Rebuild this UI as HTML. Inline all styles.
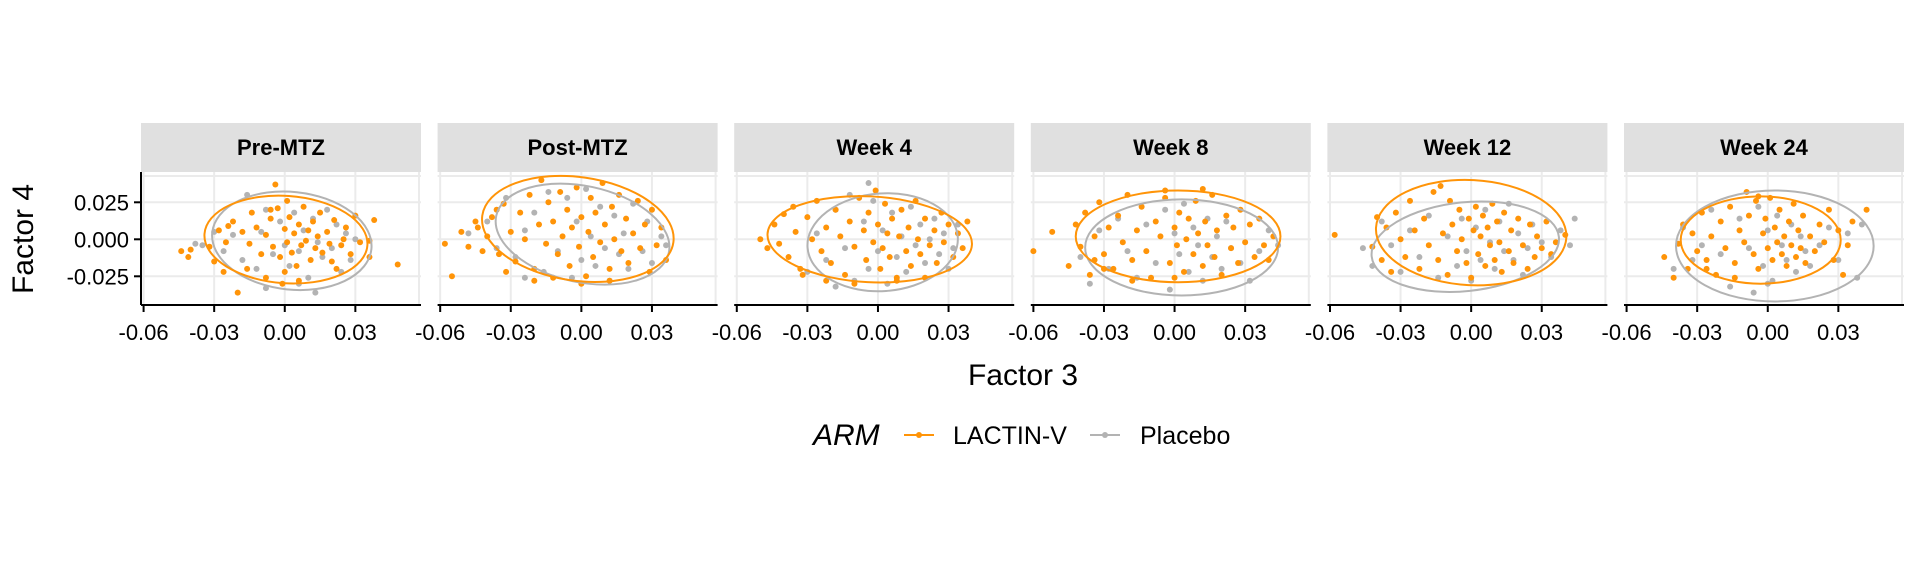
<!DOCTYPE html>
<html><head><meta charset="utf-8">
<style>
html,body{margin:0;padding:0;background:#fff;}
svg{display:block;font-family:"Liberation Sans",Arial,sans-serif;}
</style></head>
<body>
<svg id="chart" width="1920" height="576" viewBox="0 0 1920 576" xmlns="http://www.w3.org/2000/svg">
<g id="panels"></g>
<text x="1023" y="385" font-size="30" text-anchor="middle">Factor 3</text>
<text transform="translate(33,239) rotate(-90)" font-size="30" text-anchor="middle">Factor 4</text>
<g>
<text x="813" y="445" font-size="30" font-style="italic">ARM</text>
<g>
<line x1="904" y1="435" x2="934" y2="435" stroke="#FF9408" stroke-width="2"/>
<circle cx="919" cy="435" r="3" fill="#FF9408"/>
<text x="953" y="444" font-size="25">LACTIN-V</text></g>
<g>
<line x1="1090" y1="435" x2="1120" y2="435" stroke="#b3b3b3" stroke-width="2"/>
<circle cx="1105" cy="435" r="3" fill="#b3b3b3"/>
<text x="1140" y="444" font-size="25">Placebo</text></g>
</g>
</svg>
<script>
const panelTitles=["Pre-MTZ","Post-MTZ","Week 4","Week 8","Week 12","Week 24"];
const xTicks=[-0.06,-0.03,0.00,0.03];
const xTickLabels=["-0.06","-0.03","0.00","0.03"];
const yTicks=[-0.025,0.000,0.025];
const yTickLabels=["-0.025","0.000","0.025"];
// points in units of 1e-3: [x,y,...]
const lactinPts=[
[-44,-8,-41,-12,-40,-7,48,-17,38,13,36,-12,36,-1,-20,-36,-4,37,-25,-2,-28,6,-22,12,-18,5,-15,-3,-12,8,-10,-10,-8,3,-6,14,-5,-5,-3,21,-2,-12,0,7,1,-2,2,15,3,-9,4,4,5,-18,6,10,7,-4,8,22,9,-1,10,6,11,-14,12,12,13,-6,14,2,15,18,16,-9,18,5,19,-3,21,13,22,-20,24,-4,26,8,28,-10,30,16,32,-2,-30,-15,-26,-22,-16,-20,-8,-26,0,-22,6,-28,-14,18,-6,20,1,26,-24,9,-32,-5,20,-15,25,0,-1,-30],
[-58,-3,-55,-25,-51,5,-48,-5,-45,12,-42,-8,-40,2,-38,15,-35,-10,-33,24,-30,5,-28,-15,-26,18,-24,0,-22,30,-20,-20,-18,10,-17,40,-15,-3,-14,25,-12,12,-10,-10,-9,32,-8,2,-6,20,-5,-18,-4,8,-2,35,-1,-5,0,15,2,-25,3,5,4,28,5,-12,6,18,8,-2,9,38,10,10,12,-20,13,22,14,0,16,30,17,-8,19,14,20,-16,22,4,24,26,25,-6,27,10,29,-22,30,20,32,-4,34,8,36,-14,-36,20,-32,-22,-20,-28,-12,-26,0,-30,12,-28,-44,8],
[-50,0,-47,-6,-44,10,-42,-3,-40,17,-38,-12,-35,5,-33,-20,-30,15,-28,0,-26,26,-24,-8,-22,8,-20,-16,-18,20,-16,2,-14,-24,-12,12,-10,-5,-8,28,-6,6,-5,-14,-4,18,-2,-2,-1,33,0,10,1,-20,2,-6,3,24,4,4,5,-12,6,14,8,-26,9,2,10,20,12,-8,13,8,14,-18,16,26,17,0,18,-10,20,14,22,-4,24,6,25,-16,27,18,28,-2,30,10,32,-12,34,4,36,-6,38,12,-32,-24,-22,-28,-10,-30,8,-28,20,-26,-36,22],
[-60,-8,-52,5,-45,-18,-42,10,-40,-5,-38,18,-36,-24,-34,2,-32,25,-30,-10,-28,8,-26,-20,-24,16,-22,-2,-20,30,-18,-14,-16,6,-14,22,-12,-8,-10,-26,-8,12,-6,2,-4,28,-2,-16,0,8,1,-4,2,18,4,-22,5,0,6,14,8,-10,9,26,10,4,12,-18,13,12,14,-4,16,30,17,-12,18,6,20,-24,22,16,24,-6,25,8,27,-16,28,20,30,-2,32,10,34,-12,36,14,38,-4,40,-14,42,2,-30,-20,-18,-28,0,-26,-4,33,12,34,-34,-14],
[-58,3,-42,-5,-40,15,-38,-14,-36,8,-34,-22,-32,18,-30,0,-28,-12,-26,26,-24,6,-22,-20,-20,14,-18,-4,-16,32,-14,-14,-13,36,-12,4,-10,-24,-9,26,-8,10,-6,-8,-5,20,-4,0,-2,-16,-1,14,0,-26,1,6,2,22,3,-10,4,2,5,16,6,-18,7,8,8,-4,9,24,10,-14,11,12,12,-2,13,-22,14,18,16,-8,17,6,18,-16,20,14,22,-4,24,-20,25,10,27,-12,28,2,30,-6,32,12,34,-10,36,-2,40,3],
[-44,-12,-38,-3,-36,10,-34,-20,-32,4,-30,-8,-28,18,-26,-14,-24,2,-22,-24,-20,12,-18,-6,-16,22,-14,-16,-12,6,-10,-2,-8,16,-6,-10,-5,26,-4,-20,-2,4,-1,14,0,-6,1,28,2,-14,3,8,4,-2,5,20,6,-10,7,2,8,-18,9,12,10,-4,11,24,12,-12,13,6,14,-6,15,16,16,-16,18,2,20,-8,22,10,24,-2,26,20,28,-14,30,6,32,-24,34,-4,36,12,42,20,-9,32,-4,29,-40,-26,-26,-20,-14,-26]
];
const placeboPts=[
[-38,-3,-30,5,-26,-8,-22,3,-18,-14,-16,30,-12,-20,-10,5,-8,20,-5,-10,-2,12,0,-4,2,-18,4,18,6,-8,8,6,10,-26,12,14,14,-2,16,-12,18,20,20,-6,22,10,24,-22,26,4,28,-14,30,0,13,-36,-8,-33,6,-30,-35,-4],
[-48,4,-40,12,-36,-6,-32,28,-28,-12,-24,6,-20,18,-16,-22,-14,32,-10,-8,-6,28,-4,-26,-2,12,0,-14,2,34,4,2,6,-18,8,22,10,-6,12,-28,14,16,16,-10,18,4,20,-20,22,24,26,-8,28,12,30,-16,34,2,36,-4,-24,-26],
[-30,-22,-26,4,-22,-14,-18,20,-14,-6,-10,-28,-6,12,-4,-20,-2,26,0,-8,2,6,4,-30,6,18,8,-12,10,2,12,-22,14,22,16,-4,18,10,20,-16,22,0,24,14,26,-10,28,4,30,-20,32,-6,34,10,-18,-32,-4,38,-12,30],
[-40,-12,-36,-30,-32,6,-28,-20,-24,14,-20,-8,-16,-26,-12,10,-8,-16,-4,20,-2,-34,0,4,2,-10,4,24,6,-22,8,8,10,-4,12,-28,14,14,16,-12,18,2,20,-20,22,12,24,-6,28,-16,32,-28,36,-8,40,6,44,-4],
[-46,-6,-42,-18,-38,12,-34,-4,-30,-22,-26,6,-22,-12,-18,16,-14,-26,-10,2,-6,-18,-4,14,-2,-8,0,-28,2,8,4,-14,6,20,8,-2,10,-20,12,12,14,-8,16,24,18,-14,20,4,22,-24,24,-6,26,10,30,-2,34,-12,38,6,42,-4,44,14],
[-40,-20,-36,8,-32,-14,-28,-4,-24,20,-20,-10,-16,-32,-12,14,-8,-6,-4,22,-2,-18,0,6,2,-28,4,16,6,-4,8,-14,10,10,12,-22,14,2,16,-8,18,-18,22,-4,26,8,30,-14,34,4,38,-26,40,10,-6,-36,0,-30]
];
// ellipses: centre x, centre y, radius x, radius y, tilt (deg, positive = up-right) in 1e-3 units
const lactinEll=[[0.5,-0.2,34.7,29.5,-4],[-1.5,7,41,35,-8],[-3.5,0,43.5,29,-3],[1.5,2,43.5,31,0],[0,4.5,40.5,35.5,-3],[-3,-0.5,34,29.5,0]];
const placeboEll=[[3,-1,34,33,-6],[0.5,3.5,37.5,32.5,-12],[2,-2,32,33,4],[3,-5.5,41,32.5,0],[-2.5,-5,40,30,6],[3,-4.5,42,37.5,0]];

const NS="http://www.w3.org/2000/svg";
const root=document.getElementById('panels');
const PL=141, STEP=296.6, PW=280, PT=172, PB=305, STRIP_T=123;
const XMIN=-0.0611, XMAX=0.0579;
const Y0=239.3, YPX=37/0.025;
function mk(tag,attrs,parent){const e=document.createElementNS(NS,tag);for(const k in attrs)e.setAttribute(k,attrs[k]);parent.appendChild(e);return e;}
function xs(i,v){return PL+i*STEP+(v-XMIN)/(XMAX-XMIN)*PW;}
function ys(v){return Y0-v*YPX;}

panelTitles.forEach((title,i)=>{
  const g=mk('g',{},root);
  
  
  const x0=PL+i*STEP;
  const strip=mk('rect',{x:x0,y:STRIP_T,width:PW,height:PT-STRIP_T,fill:'#e0e0e0'},g);
  
  
  const st=mk('text',{x:x0+PW/2,y:STRIP_T+32,'font-size':22,'font-weight':'bold','text-anchor':'middle'},g);
  st.textContent=title;
  
  
  xTicks.forEach(t=>{const l=mk('line',{x1:xs(i,t),x2:xs(i,t),y1:PT,y2:PB,stroke:'#ebebeb','stroke-width':2},g);
    });
  yTicks.forEach(t=>{const l=mk('line',{x1:x0,x2:x0+PW,y1:ys(t),y2:ys(t),stroke:'#ebebeb','stroke-width':2},g);
    });
  const edgeR=mk('line',{x1:x0+PW-2,x2:x0+PW-2,y1:PT,y2:PB,stroke:'#ebebeb','stroke-width':2},g);
  
  const edgeT=mk('line',{x1:x0,x2:x0+PW,y1:PT+4,y2:PT+4,stroke:'#ebebeb','stroke-width':2},g);
  
  const draw=(arr,col,name)=>{for(let k=0;k<arr.length;k+=2){
    const c=mk('circle',{cx:xs(i,arr[k]/1000),cy:ys(arr[k+1]/1000),r:3,fill:col},g);
    
    }};
  draw(placeboPts[i],'#b3b3b3','point-placebo');
  draw(lactinPts[i],'#FF9408','point-lactin-v');
  const ell=(e,col,name)=>{const cx=xs(i,e[0]/1000),cy=ys(e[1]/1000);
    const rx=e[2]/1000/(XMAX-XMIN)*PW, ry=e[3]/1000*YPX;
    const el=mk('ellipse',{cx:cx,cy:cy,rx:rx,ry:ry,fill:'none',stroke:col,'stroke-width':2,transform:`rotate(${-e[4]} ${cx} ${cy})`},g);
    
    };
  ell(placeboEll[i],'#b3b3b3','ellipse-placebo');
  ell(lactinEll[i],'#FF9408','ellipse-lactin-v');
  const ax=mk('line',{x1:x0,x2:x0+PW,y1:PB,y2:PB,stroke:'#000','stroke-width':2},g);
  
  xTicks.forEach((t,k)=>{mk('line',{x1:xs(i,t),x2:xs(i,t),y1:PB,y2:PB+7,stroke:'#000','stroke-width':2},g);
    const tl=mk('text',{x:xs(i,t),y:340,'font-size':22,'text-anchor':'middle'},g);
    tl.textContent=xTickLabels[k];
    
    });
  if(i===0){
    const ay=mk('line',{x1:x0,x2:x0,y1:PT,y2:PB,stroke:'#000','stroke-width':2},g);
    
    yTicks.forEach((t,k)=>{mk('line',{x1:x0-7,x2:x0,y1:ys(t),y2:ys(t),stroke:'#000','stroke-width':2},g);
      const tl=mk('text',{x:x0-12,y:ys(t)+8,'font-size':22,'text-anchor':'end'},g);
      tl.textContent=yTickLabels[k];
      
      });
  }
});
</script>
</body></html>
